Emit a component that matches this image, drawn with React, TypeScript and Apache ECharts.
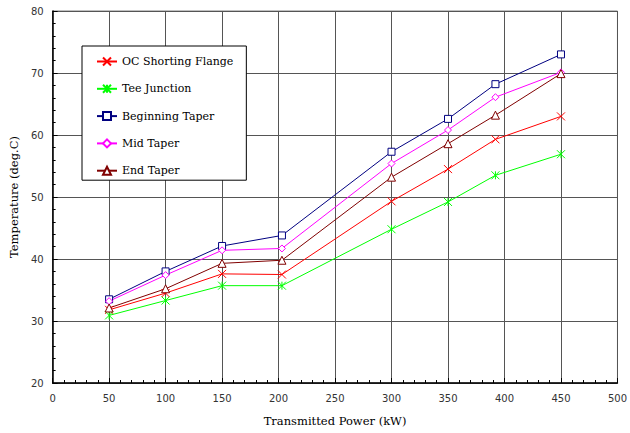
import React, { useEffect, useRef } from "react";
import * as echarts from "echarts";

const seriesNames = ["OC Shorting Flange", "Tee Junction", "Beginning Taper", "Mid Taper", "End Taper"];
const xValues = [50, 100, 150, 203, 300, 350, 392, 450];
const ocShorting = [31.8, 34.5, 37.6, 37.5, 49.3, 54.5, 59.3, 63.0];
const teeJunction = [30.9, 33.3, 35.7, 35.7, 44.8, 49.2, 53.5, 56.9];
const beginningTaper = [33.5, 38.0, 42.1, 43.8, 57.3, 62.6, 68.2, 73.0];
const midTaper = [33.2, 37.4, 41.4, 41.7, 55.4, 60.8, 66.1, 70.1];
const endTaper = [32.1, 35.2, 39.3, 39.8, 53.2, 58.6, 63.2, 69.9];
const xTicks = [0, 50, 100, 150, 200, 250, 300, 350, 400, 450, 500];
const yTicks = [20, 30, 40, 50, 60, 70, 80];

const colors = ["#ff0000", "#00ff00", "#000080", "#ff00ff", "#800000"];
const symbols = [
  "path://M0,0L10,10M0,10L10,0",
  "path://M0,0L10,10M0,10L10,0M5,0L5,10",
  "path://M0,0L10,0L10,10L0,10Z",
  "path://M5,0L10,5L5,10L0,5Z",
  "path://M5,0L10,10L0,10Z",
];
const symbolSizes = [8, 8, 7, 7, 8];
const allData = [ocShorting, teeJunction, beginningTaper, midTaper, endTaper];

export default function App() {
  const ref = useRef<HTMLDivElement>(null);
  useEffect(() => {
    if (!ref.current) return;
    const chart = echarts.init(ref.current, undefined, { renderer: "svg" });
    const serif = "DejaVu Serif";
    const sans = "DejaVu Sans";
    chart.setOption({
      animation: false,
      backgroundColor: "#ffffff",
      grid: {
        left: 50,
        right: 8,
        top: 11,
        bottom: 50,
        show: true,
        borderColor: "#808080",
        borderWidth: 1,
      },
      legend: {
        orient: "vertical",
        left: 82,
        top: 46,
        backgroundColor: "#ffffff",
        borderColor: "#000000",
        borderWidth: 1,
        borderRadius: 0,
        padding: [10, 13, 4, 14],
        itemGap: 16.3,
        itemWidth: 20,
        itemHeight: 10,
        textStyle: { fontFamily: serif, fontSize: 11, color: "#000" },
        data: seriesNames,
      },
      xAxis: {
        type: "value",
        min: xTicks[0],
        max: xTicks[xTicks.length - 1],
        interval: 50,
        name: "Transmitted Power (kW)",
        nameLocation: "middle",
        nameGap: 32,
        nameTextStyle: { fontFamily: serif, fontSize: 11.5, color: "#000" },
        axisLine: { lineStyle: { color: "#000", width: 1.5 } },
        axisTick: { inside: true, length: 5, lineStyle: { color: "#000" } },
        minorTick: { show: true, splitNumber: 5, length: 3, lineStyle: { color: "#000" } },
        axisLabel: { fontFamily: sans, fontSize: 10, color: "#333", margin: 10 },
        splitLine: { show: true, lineStyle: { color: "#555", width: 1 } },
      },
      yAxis: {
        type: "value",
        min: yTicks[0],
        max: yTicks[yTicks.length - 1],
        interval: 10,
        name: "Temperature (deg.C)",
        nameLocation: "middle",
        nameGap: 27,
        nameTextStyle: { fontFamily: serif, fontSize: 11.5, color: "#000" },
        axisLine: { show: true, lineStyle: { color: "#000", width: 1.5 } },
        axisTick: { show: true, inside: true, length: 5, lineStyle: { color: "#000" } },
        minorTick: { show: true, splitNumber: 5, length: 3, lineStyle: { color: "#000" } },
        axisLabel: { fontFamily: sans, fontSize: 10, color: "#333", margin: 9 },
        splitLine: { show: true, lineStyle: { color: "#555", width: 1 } },
      },
      series: seriesNames.map((name, i) => ({
        name,
        type: "line",
        data: xValues.map((x, j) => [x, allData[i][j]]),
        symbol: symbols[i],
        symbolSize: symbolSizes[i],
        showSymbol: true,
        lineStyle: { color: colors[i], width: 1 },
        itemStyle: {
          color: i < 2 ? colors[i] : "#ffffff",
          borderColor: colors[i],
          borderWidth: 1,
        },
        emphasis: { disabled: true },
      })),
    });
    return () => chart.dispose();
  }, []);
  return <div ref={ref} style={{ width: 630, height: 433, position: "absolute", left: 0, top: 0 }} />;
}
